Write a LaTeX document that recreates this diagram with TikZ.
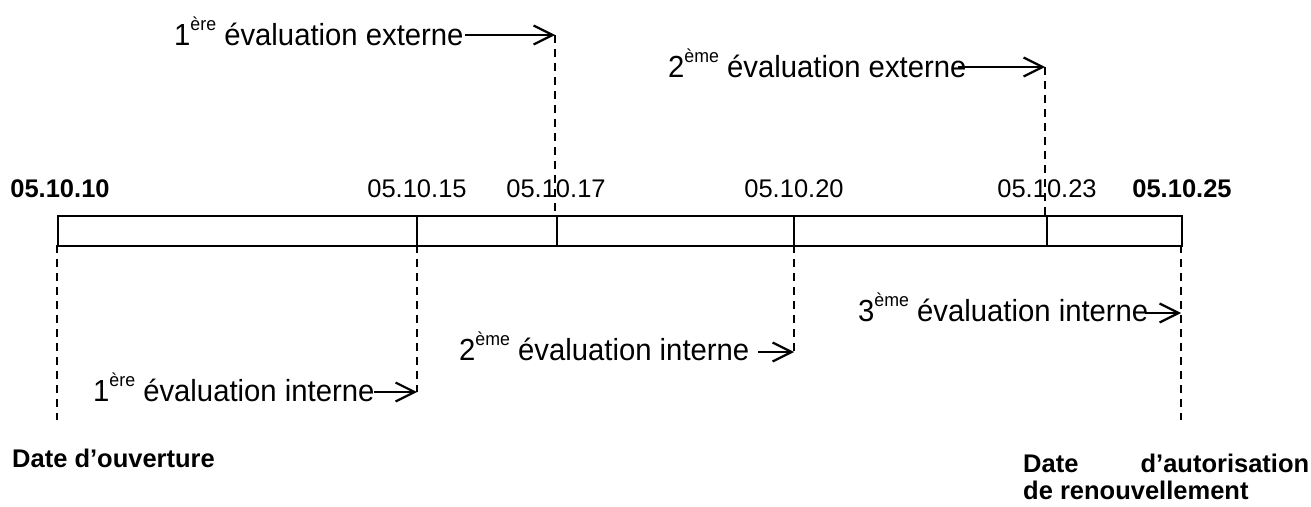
\documentclass[tikz,border=0pt]{standalone}
\usepackage{fontspec}
\setmainfont{Liberation Sans}
\newfontfamily\evalfont{Liberation Sans}[FakeStretch=0.96]
\usetikzlibrary{arrows.meta}
\newcommand\supx[1]{\raisebox{14.5pt}{\fontsize{18.5pt}{18.5pt}\selectfont #1}}
\tikzset{
  datelbl/.style={anchor=base, inner sep=0pt, font=\fontsize{25.5pt}{30pt}\selectfont},
  datebold/.style={datelbl, font=\fontsize{25.5pt}{30pt}\selectfont\bfseries},
  evallbl/.style={anchor=base west, inner sep=0pt, font=\evalfont\fontsize{30.5pt}{34pt}\selectfont},
  footlbl/.style={anchor=base west, inner sep=0pt, font=\fontsize{25.5pt}{30pt}\selectfont\bfseries},
  barline/.style={line width=1.8pt},
  guide/.style={line width=1.4pt, dash pattern=on 8pt off 6pt},
  evalarrow/.style={line width=2pt, -{Straight Barb[length=19pt,width=19pt,line width=2.2pt]}}
}
\begin{document}
\begin{tikzpicture}[x=1pt,y=-1pt]
\useasboundingbox (0,0) rectangle (1311,506);

% bar
\node[barline, draw, rectangle, anchor=north west, inner sep=0pt,
      minimum width=1124pt, minimum height=30pt] (bar) at (57,215) {};

% dividers
\coordinate (t15) at (417,215); \coordinate (b15) at (417,245);
\coordinate (t17) at (557,215); \coordinate (b17) at (557,245);
\coordinate (t20) at (794,215); \coordinate (b20) at (794,245);
\coordinate (t23) at (1047,215); \coordinate (b23) at (1047,245);
\draw[barline] (t15) -- (b15);
\draw[barline] (t17) -- (b17);
\draw[barline] (t20) -- (b20);
\draw[barline] (t23) -- (b23);

% dates
\node[datebold] (d10) at (60,197) {05.10.10};
\node[datelbl] (d15) at (417,197) {05.10.15};
\node[datelbl] (d17) at (556,197) {05.10.17};
\node[datelbl] (d20) at (794,197) {05.10.20};
\node[datelbl] (d23) at (1047,197) {05.10.23};
\node[datebold] (d25) at (1182,197) {05.10.25};

% evaluation labels
\node[evallbl] (e1) at (174,45) {1\supx{ère} évaluation externe};
\node[evallbl] (e2) at (668,77) {2\supx{ème} évaluation externe};
\node[evallbl] (i1) at (93,401) {1\supx{ère} évaluation interne};
\node[evallbl] (i2) at (459,360) {2\supx{ème} évaluation interne};
\node[evallbl] (i3) at (858,321) {3\supx{ème} évaluation interne};

% arrow ends / guide ends
\coordinate (e1s) at (465,35);   \coordinate (e1t) at (555,35);   \coordinate (e1b) at (555,215);
\coordinate (e2s) at (958,67);   \coordinate (e2t) at (1045,67);  \coordinate (e2b) at (1045,215);
\coordinate (i1s) at (374,392);  \coordinate (i1t) at (417,392);
\coordinate (i2s) at (758,352);  \coordinate (i2t) at (794,352);
\coordinate (i3s) at (1145,313); \coordinate (i3t) at (1181,313);
\coordinate (l0) at (57,245);    \coordinate (l1) at (57,420);
\coordinate (r0) at (1181,245);  \coordinate (r1) at (1181,420);

% guides
\draw[guide] (e1t) -- (e1b);
\draw[guide] (e2t) -- (e2b);
\draw[guide] (b15) -- (i1t);
\draw[guide] (b20) -- (i2t);
\draw[guide] (l0) -- (l1);
\draw[guide] (r0) -- (r1);

% arrows
\draw[evalarrow] (e1s) -- (e1t);
\draw[evalarrow] (e2s) -- (e2t);
\draw[evalarrow] (i1s) -- (i1t);
\draw[evalarrow] (i2s) -- (i2t);
\draw[evalarrow] (i3s) -- (i3t);

% footer
\node[footlbl] (open) at (12,467) {Date d’ouverture};
\node[footlbl] (auth) at (1023,472) {\makebox[286pt][s]{Date\hfill d’autorisation}};
\node[footlbl] (renew) at (1023,499) {de renouvellement};
\end{tikzpicture}
\end{document}
